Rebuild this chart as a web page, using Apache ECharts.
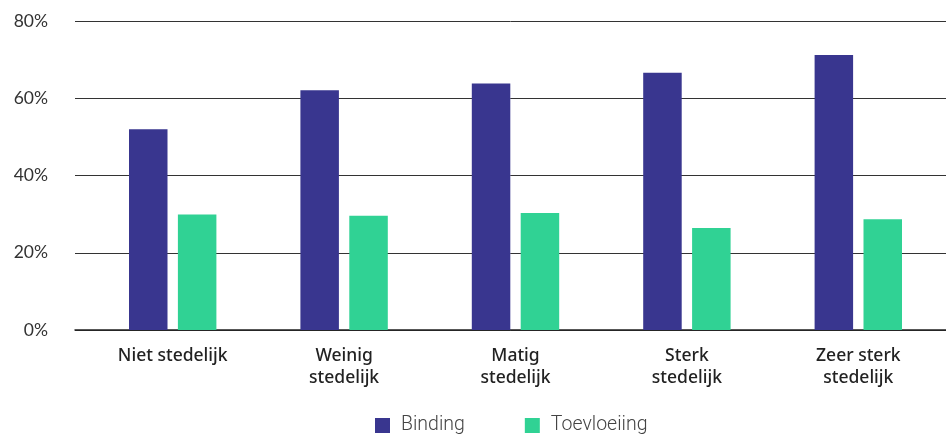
<!DOCTYPE html>
<html>
<head>
<meta charset="utf-8">
<script src="https://cdn.jsdelivr.net/npm/echarts@6/dist/echarts.min.js"></script>
<style>html,body{margin:0;padding:0;background:#fff}#c{width:946px;height:435px}</style>
</head>
<body>
<div id="c"></div>
<script>
const categories = ['Niet stedelijk', 'Weinig\nstedelijk', 'Matig\nstedelijk', 'Sterk\nstedelijk', 'Zeer sterk\nstedelijk'];
const seriesNames = ['Binding', 'Toevloeiing'];
const binding = [52.0, 62.1, 63.8, 66.6, 71.2];
const toevloeiing = [29.9, 29.6, 30.3, 26.4, 28.7];
const yTicks = [0, 20, 40, 60, 80];

const chart = echarts.init(document.getElementById('c'));
chart.setOption({
  animation: false,
  grid: [
    {left: 87, right: 2, top: 21, bottom: 105},
    {left: 75, right: 0, top: 21, bottom: 105}
  ],
  legend: {
    data: seriesNames,
    left: 375, top: 415.5, padding: 0,
    icon: 'rect', itemWidth: 15, itemHeight: 15, itemGap: 60,
    textStyle: {fontFamily: 'Roboto', fontWeight: 300, fontSize: 19.5, color: '#444', padding: [0, 0, 0, 6]}
  },
  xAxis: [
    {
      type: 'category', data: categories, gridIndex: 0,
      axisLine: {show: false}, axisTick: {show: false},
      axisLabel: {fontFamily: 'Noto Sans', fontWeight: 500, fontSize: 17.5, color: '#222', lineHeight: 22, margin: 15, interval: 0}
    },
    {
      type: 'value', gridIndex: 1, min: 0, max: 1, show: true,
      axisLine: {show: true, onZero: false, lineStyle: {color: '#222', width: 1.5}},
      axisTick: {show: false}, axisLabel: {show: false}, splitLine: {show: false}
    }
  ],
  yAxis: [
    {type: 'value', gridIndex: 0, min: yTicks[0], max: yTicks[yTicks.length - 1], interval: 20, show: false},
    {
      type: 'value', gridIndex: 1, min: yTicks[0], max: yTicks[yTicks.length - 1], interval: 20,
      axisLine: {show: false}, axisTick: {show: false},
      axisLabel: {formatter: '{value}%', fontFamily: 'Lato', fontSize: 17.5, color: '#333', margin: 27},
      splitLine: {lineStyle: {color: '#333', width: 1}}
    }
  ],
  series: [
    {name: seriesNames[0], type: 'bar', data: binding, barWidth: 38.5, barGap: '27%', itemStyle: {color: '#39368F'}},
    {name: seriesNames[1], type: 'bar', data: toevloeiing, barWidth: 38.5, barGap: '27%', itemStyle: {color: '#30D294'}}
  ]
});
</script>
</body>
</html>
